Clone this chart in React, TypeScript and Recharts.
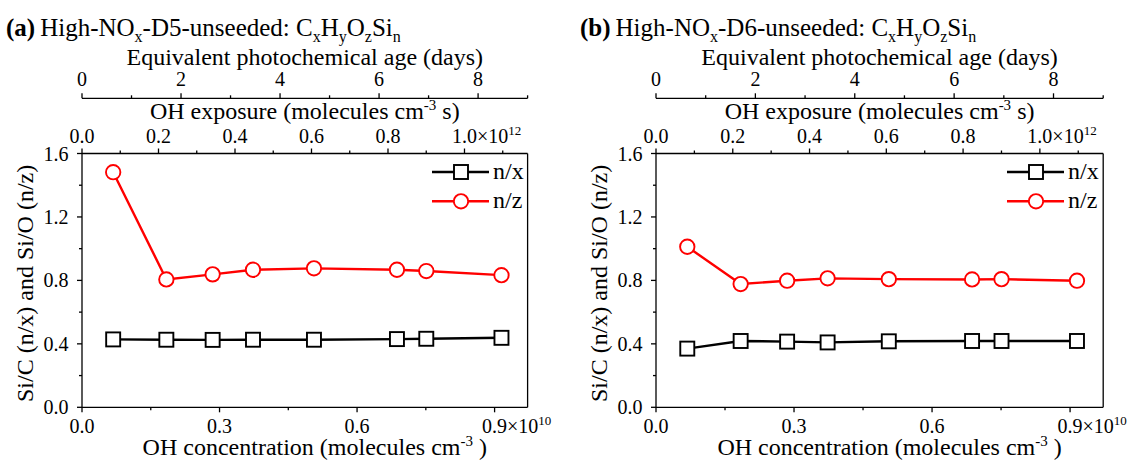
import React from "react"
import { Label, Legend, Line, LineChart, ReferenceLine, XAxis, YAxis } from "recharts"

// OH concentration (x 10^10 molecules cm-3), shared by both experiments
const ohConc = [0.068, 0.184, 0.285, 0.373, 0.506, 0.687, 0.751, 0.915]

// D5 unseeded
const d5SiC = [0.428, 0.426, 0.425, 0.426, 0.426, 0.43, 0.432, 0.438]
const d5SiO = [1.482, 0.806, 0.838, 0.867, 0.876, 0.867, 0.859, 0.833]

// D6 unseeded
const d6SiC = [0.37, 0.418, 0.414, 0.409, 0.416, 0.418, 0.418, 0.418]
const d6SiO = [1.012, 0.777, 0.798, 0.813, 0.808, 0.806, 0.808, 0.798]

// axis ranges (conc x10^10, exposure x10^12, age days)
const concMax = 0.972
const exposureMax = 1.165
const ageMax = 9

// axis ticks (minor ones included, majors get labels)
const concTicks = [0, 0.15, 0.3, 0.45, 0.6, 0.75, 0.9]
const concMajor = [0, 0.3, 0.6, 0.9]
const exposureTicks = [0, 0.1, 0.2, 0.3, 0.4, 0.5, 0.6, 0.7, 0.8, 0.9, 1.0, 1.1]
const exposureMajor = [0, 0.2, 0.4, 0.6, 0.8, 1.0]
const ageTicks = [0, 1, 2, 3, 4, 5, 6, 7, 8, 9]
const ageMajor = [0, 2, 4, 6, 8]
const yTicks = [0, 0.2, 0.4, 0.6, 0.8, 1.0, 1.2, 1.4, 1.6]
const yMajor = [0, 0.4, 0.8, 1.2, 1.6]

const FONT = '"Liberation Serif", "Times New Roman", serif'
const AXIS_W = 1.3
const TICK_FS = 20
const LABEL_FS = 24
const TXT = { fontFamily: FONT }

const isMajor = (v: number, majors: number[]) => majors.some((m) => Math.abs(m - v) < 1e-6)

function makeXTick(
  majors: number[],
  side: "top" | "bottom",
  gap: number,
  digits: number,
  power?: string
) {
  const last = majors[majors.length - 1]
  return (props: any) => {
    const { x, y, payload } = props
    const v = payload.value
    const major = isMajor(v, majors)
    const dir = side === "bottom" ? 1 : -1
    const len = major ? 5 : 3
    const ty = side === "bottom" ? y + gap : y - gap
    let label: React.ReactNode = null
    if (major) {
      const txt = v.toFixed(digits)
      if (power && Math.abs(v - last) < 1e-6) {
        label = (
          <text x={x - 12.5} y={ty} textAnchor="start" fontSize={TICK_FS} style={TXT} fill="#000">
            {txt}×10
            <tspan dy={-8} fontSize={13}>{power}</tspan>
          </text>
        )
      } else {
        label = (
          <text x={x} y={ty} textAnchor="middle" fontSize={TICK_FS} style={TXT} fill="#000">
            {txt}
          </text>
        )
      }
    }
    return (
      <g>
        <line x1={x} x2={x} y1={y} y2={y + dir * len} stroke="#000" strokeWidth={AXIS_W} />
        {label}
      </g>
    )
  }
}

const YTick = (props: any) => {
  const { x, y, payload } = props
  const v = payload.value
  const major = isMajor(v, yMajor)
  return (
    <g>
      <line x1={x} x2={x - (major ? 5 : 3)} y1={y} y2={y} stroke="#000" strokeWidth={AXIS_W} />
      {major && (
        <text x={x - 13.5} y={y + 7} textAnchor="end" fontSize={TICK_FS} style={TXT} fill="#000">
          {v.toFixed(1)}
        </text>
      )}
    </g>
  )
}

const SquareDot = (props: any) => {
  const { cx, cy, index } = props
  if (cx == null || cy == null) return <g key={index} />
  return <rect key={index} x={cx - 7} y={cy - 7} width={14} height={14} fill="#fff" stroke="#000" strokeWidth={1.9} />
}

const CircleDot = (props: any) => {
  const { cx, cy, index } = props
  if (cx == null || cy == null) return <g key={index} />
  return <circle key={index} cx={cx} cy={cy} r={7.2} fill="#fff" stroke="#ff0000" strokeWidth={1.9} />
}

const renderLegend = (props: any) => {
  const items = props.payload ?? []
  return (
    <svg width={100} height={62} style={{ display: "block", overflow: "visible" }}>
      {items.map((it: any, i: number) => {
        const cy = 10 + i * 29.3
        const color = it.color
        return (
          <g key={it.value}>
            <line x1={0} x2={57} y1={cy} y2={cy} stroke={color} strokeWidth={2.4} />
            {it.value === "n/x" ? (
              <rect x={29 - 7} y={cy - 7} width={14} height={14} fill="#fff" stroke={color} strokeWidth={1.9} />
            ) : (
              <circle cx={29} cy={cy} r={7.2} fill="#fff" stroke={color} strokeWidth={1.9} />
            )}
            <text x={61} y={cy + 7} fontSize={LABEL_FS} style={TXT} fill="#000">
              {it.value}
            </text>
          </g>
        )
      })}
    </svg>
  )
}

type PanelProps = {
  tag: string
  name: string
  siC: number[]
  siO: number[]
  left: number
  width: number
  marginRight: number
}

function Panel({ tag, name, siC, siO, left, width, marginRight }: PanelProps) {
  const rows = ohConc.map((c, i) => ({ conc: c, nx: siC[i], nz: siO[i] }))
  const plotRight = width - marginRight

  const sub = (s: string) => [
    <tspan key={s + "a"} dy={6} fontSize={16}>{s}</tspan>,
  ]

  const titleLabel = (p: any) => {
    const vb = p.viewBox
    const cx = vb.x + vb.width / 2
    return (
      <g fill="#000">
        <text x={vb.x - 76} y={vb.y - 4} fontSize={25} style={TXT}>
          <tspan fontWeight="bold">({tag})</tspan>
          <tspan dx={5}>High-NO</tspan>
          {sub("x")}
          <tspan dy={-6}>-{name}-unseeded: C</tspan>
          {sub("x")}
          <tspan dy={-6}>H</tspan>
          {sub("y")}
          <tspan dy={-6}>O</tspan>
          {sub("z")}
          <tspan dy={-6}>Si</tspan>
          {sub("n")}
        </text>
        <text x={cx} y={vb.y + 25.3} fontSize={LABEL_FS} textAnchor="middle" style={TXT}>
          Equivalent photochemical age (days)
        </text>
      </g>
    )
  }

  const exposureLabel = (p: any) => {
    const vb = p.viewBox
    return (
      <text x={vb.x + vb.width / 2} y={vb.y + 20.7} fontSize={LABEL_FS} textAnchor="middle" style={TXT} fill="#000">
        OH exposure (molecules cm
        <tspan dy={-9} fontSize={15}>-3</tspan>
        <tspan dy={9}> s)</tspan>
      </text>
    )
  }

  const concLabel = (p: any) => {
    const vb = p.viewBox
    return (
      <text x={vb.x + vb.width / 2 + 10} y={vb.y + 47.7} fontSize={LABEL_FS} textAnchor="middle" style={TXT} fill="#000">
        OH concentration (molecules cm
        <tspan dy={-9} fontSize={15}>-3</tspan>
        <tspan dy={9}> )</tspan>
      </text>
    )
  }

  const yLabel = (p: any) => {
    const vb = p.viewBox
    const x = vb.x + vb.width - 49
    const cy = vb.y + vb.height / 2 + 3
    return (
      <text
        x={x}
        y={cy}
        transform={`rotate(-90, ${x}, ${cy})`}
        fontSize={LABEL_FS}
        textAnchor="middle"
        style={TXT}
        fill="#000"
      >
        Si/C (n/x) and Si/O (n/z)
      </text>
    )
  }

  return (
    <div style={{ position: "absolute", left, top: 0, fontFamily: FONT }}>
      <LineChart width={width} height={462} data={rows} margin={{ top: 40, right: marginRight, bottom: 0, left: 0 }}>
        <XAxis
          xAxisId="a-exposure"
          orientation="top"
          type="number"
          dataKey={(r: any) => (r.conc * exposureMax) / concMax}
          domain={[0, exposureMax]}
          allowDataOverflow
          ticks={exposureTicks}
          interval={0}
          height={55.2}
          tickSize={0}
          tickMargin={0}
          tickLine={false}
          axisLine={{ stroke: "#000", strokeWidth: AXIS_W }}
          tick={makeXTick(exposureMajor, "top", 11, 1, "12")}
        >
          <Label content={exposureLabel} />
        </XAxis>
        <XAxis
          xAxisId="b-age"
          orientation="top"
          type="number"
          dataKey={(r: any) => (r.conc * ageMax) / concMax}
          domain={[0, ageMax]}
          allowDataOverflow
          ticks={ageTicks}
          interval={0}
          height={58.3}
          tickSize={0}
          tickMargin={0}
          tickLine={false}
          axisLine={{ stroke: "#000", strokeWidth: AXIS_W }}
          tick={makeXTick(ageMajor, "top", 12, 0)}
        >
          <Label content={titleLabel} />
        </XAxis>
        <XAxis
          xAxisId="conc"
          dataKey="conc"
          type="number"
          domain={[0, concMax]}
          allowDataOverflow
          ticks={concTicks}
          interval={0}
          height={54.7}
          tickSize={0}
          tickMargin={0}
          tickLine={false}
          axisLine={{ stroke: "#000", strokeWidth: AXIS_W }}
          tick={makeXTick(concMajor, "bottom", 26, 1, "10")}
        >
          <Label content={concLabel} />
        </XAxis>
        <YAxis
          yAxisId="left"
          type="number"
          domain={[0, 1.6]}
          allowDataOverflow
          ticks={yTicks}
          interval={0}
          width={82}
          tickSize={0}
          tickMargin={0}
          tickLine={false}
          axisLine={{ stroke: "#000", strokeWidth: AXIS_W }}
          tick={YTick}
        >
          <Label content={yLabel} />
        </YAxis>
        <ReferenceLine xAxisId="conc" yAxisId="left" x={concMax} stroke="#000" strokeWidth={AXIS_W} ifOverflow="visible" />
        <Legend
          layout="vertical"
          align="center"
          verticalAlign="middle"
          content={renderLegend}
          wrapperStyle={{ top: 161.7, left: plotRight - 96, width: 100, height: 62 }}
        />
        <Line
          xAxisId="conc"
          yAxisId="left"
          dataKey="nx"
          name="n/x"
          stroke="#000000"
          strokeWidth={2.4}
          dot={SquareDot}
          activeDot={false}
          isAnimationActive={false}
        />
        <Line
          xAxisId="conc"
          yAxisId="left"
          dataKey="nz"
          name="n/z"
          stroke="#ff0000"
          strokeWidth={2.4}
          dot={CircleDot}
          activeDot={false}
          isAnimationActive={false}
        />
      </LineChart>
    </div>
  )
}

export default function App() {
  return (
    <div style={{ position: "absolute", left: 0, top: 0, width: 1129, height: 462, background: "#fff" }}>
      <Panel tag="a" name="D5" siC={d5SiC} siO={d5SiO} left={0} width={565} marginRight={37.4} />
      <Panel tag="b" name="D6" siC={d6SiC} siO={d6SiO} left={573.5} width={555.5} marginRight={26.3} />
    </div>
  )
}
